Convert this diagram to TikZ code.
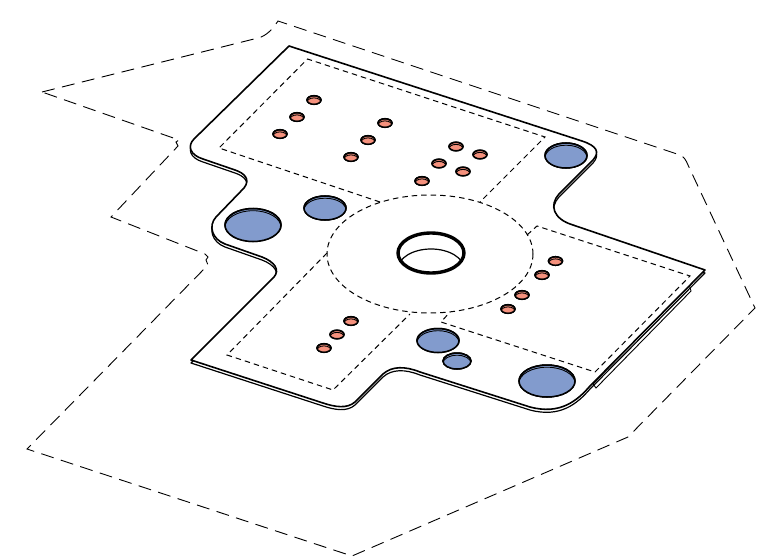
\documentclass[tikz,border=0pt]{standalone}
\definecolor{holeblue}{RGB}{130,155,205}
\definecolor{holered}{RGB}{245,145,125}
\tikzset{
  outerzone/.style={line width=0.9pt, dash pattern=on 13pt off 7.5pt},
  innerzone/.style={line width=1pt, dash pattern=on 5.5pt off 4pt},
  plateedge/.style={line width=1.6pt, line join=round},
}
\newcommand{\plateoutline}{(289,46) -- (582,141) .. controls (597,146) and (600,152) .. (593,160)
  -- (559,194) .. controls (549,205) and (553,219) .. (573,225) -- (705,270) -- (590,386)
  .. controls (577,401) and (560,415) .. (530,407) -- (420,372) .. controls (405,366) and (392,366) .. (383,374)
  -- (355,402) .. controls (347,409) and (335,407) .. (323,403) -- (191,360) -- (274,277)
  .. controls (280,270) and (275,262) .. (262,257) -- (225,244) .. controls (212,239) and (208,226) .. (216,217)
  -- (244,188) .. controls (251,179) and (244,173) .. (235,170) -- (203,159) .. controls (190,155) and (187,146) .. (194,139)
  -- cycle}
\newcommand{\drillhole}[6]{
  \filldraw[fill=#5, line width=#6pt] (#1,#2) ellipse [x radius=#3, y radius=#4];
  \begin{scope}
    \clip (#1,#2) ellipse [x radius=#3, y radius=#4];
    \filldraw[fill=#5, line width=0.9pt] (#1,#2+2.2) ellipse [x radius=#3, y radius=#4];
  \end{scope}
  \draw[line width=#6pt] (#1,#2) ellipse [x radius=#3, y radius=#4];
}
\begin{document}
\begin{tikzpicture}[x=1pt,y=-1pt]
\useasboundingbox (0,0) rectangle (782,559);
%%% The zone around the plate
\draw[outerzone] (42,92) -- (258,38) .. controls (266,36) and (272,30) .. (278,21) -- (680,155)
  .. controls (684,157) and (686,160) .. (688,165) -- (755,308) -- (628,437) -- (352,556) -- (27,449)
  -- (208,265) -- (206,260) -- (208,257) -- (205,254) -- (111,217) -- (178,146) -- (176,142) -- (179,140) -- cycle;
%%% The plate, its thickness first
\filldraw[fill=white, line width=0.9pt] (593,384) -- (689,284) -- (691,291) -- (596,388) -- cycle;
\draw[plateedge, line width=1.2pt, shift={(0,3)}] \plateoutline;
\filldraw[plateedge, fill=white] \plateoutline;
%%% The zones on the plate
\draw[innerzone] (380,202) -- (219,148) -- (307.5,59) -- (545,137) -- (480,202);
\draw[innerzone] (527,235) -- (537,226) -- (690,276) -- (595,372) -- (441,322) -- (450,312);
\draw[innerzone] (327,253) -- (227,355) -- (333,390) -- (410,314);
\draw[innerzone] (430,254) ellipse [x radius=103, y radius=59];
%%% The centre hole
\begin{scope}
  \clip (431,253) ellipse [x radius=33, y radius=20];
  \draw[line width=1.2pt] (431,269) ellipse [x radius=33, y radius=20];
\end{scope}
\draw[line width=3.4pt] (431,253) ellipse [x radius=33, y radius=20];
%%% The large holes
\foreach \px/\py/\rx/\ry in {253/225/28/16.5, 325/208/21/12, 566/155.5/21/12.5, 547/381/28/16, 438/340.5/21/12, 457/361/14/8}
  \drillhole{\px}{\py}{\rx}{\ry}{holeblue}{1.5};
%%% The small holes
\foreach \px/\py in {314/100, 297/117, 280/134, 385/123, 368/140, 351/157, 456/146.5, 439/163.5, 422/181,
    480/154.5, 463/171.5, 555.5/261, 542/275, 522/295, 508/309, 351/321, 337/334.5, 324/348}
  \drillhole{\px}{\py}{7}{4.3}{holered}{1.5};
\end{tikzpicture}
\end{document}
